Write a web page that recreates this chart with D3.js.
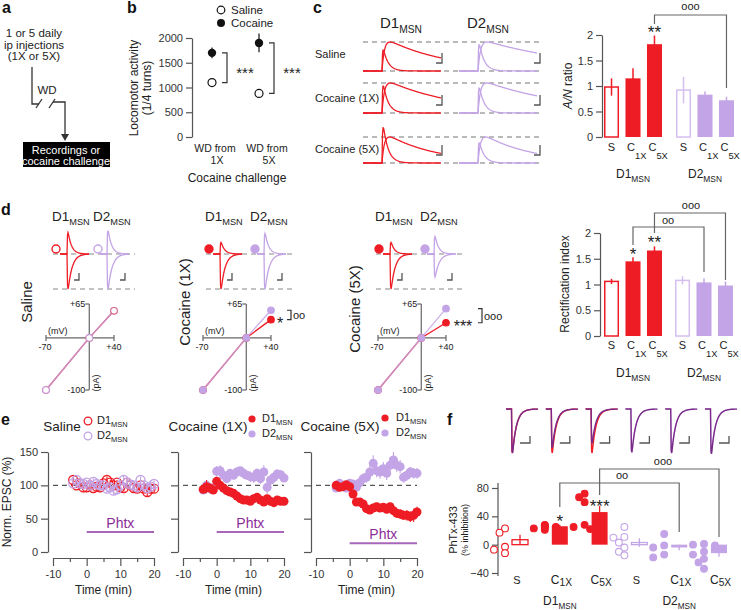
<!DOCTYPE html>
<html><head><meta charset="utf-8">
<script src="https://cdn.jsdelivr.net/npm/d3@7"></script>
<style>body{margin:0;background:#fff}svg{display:block;font-family:"Liberation Sans",Arial,Helvetica,sans-serif}</style>
</head><body><script>
// ================= DATA =================
// panel b
const bGroups=["1X","5X"];
const bSaline=[1100,880], bSalineErr=[60,50];
const bCocaine=[1700,1900], bCocaineErr=[110,190];
const bTicks=[0,500,1000,1500,2000];
// panel c traces (relative to NMDA peak = 1)
const cRows=["Saline","Cocaine (1X)","Cocaine (5X)"];
const cD1Ampa=[0.72,0.9,1.35], cD1NmdaEnd=[0.38,0.43,0.3];
const cD2Ampa=[0.9,0.83,0.77], cD2NmdaEnd=[0.55,0.5,0.3];
// bar categories
const barCats=["S","C1X","C5X"];
const cellTypes=["D1","D2"];
const barTicks=[0,0.5,1,1.5,2];
// panel c A/N ratio
const anD1=[0.98,1.15,1.82], anD1Err=[0.17,0.2,0.17];
const anD2=[0.92,0.83,0.72], anD2Err=[0.26,0.06,0.07];
// panel d I-V
const ivConds=["Saline","Cocaine (1X)","Cocaine (5X)"];
const ivVolts=[-70,0,40];
const ivD1=[[-100,0,52],[-100,0,35],[-100,0,29]];
const ivD2=[[-100,0,52],[-100,0,53],[-100,0,56]];
const dD1Out=[0.61,0.33,0.33], dD2Out=[0.67,0.59,0.5];
const dD1In=[1,1,1], dD2In=[1,1,0.66];
// panel d rectification index
const riD1=[1.06,1.45,1.66], riD1Err=[0.05,0.08,0.08];
const riD2=[1.08,1.04,0.98], riD2Err=[0.08,0.08,0.08];
// panel e time courses
const eTime=[-4,-3,-2,-1,0,1,2,3,4,5,6,7,8,9,10,11,12,13,14,15,16,17,18,19,20];
const eSalD1=[108,100,103,97,97,100,96,98,97,103,108,104,100,104,97,96,104,100,96,95,100,95,90,95,95];
const eSalD1Err=[4,4,4,3,3,4,3,3,4,4,5,4,4,4,4,4,5,4,4,4,4,4,6,4,4];
const eSalD2=[103,108,103,102,104,100,105,102,100,100,95,97,92,94,100,108,104,101,100,97,108,100,96,98,102];
const eSalD2Err=[4,4,4,4,4,5,5,5,6,5,6,7,6,6,5,6,5,5,6,5,5,6,5,5,5];
const eC1D1=[94,98,96,93,106,100,96,92,90,88,84,80,78,78,76,80,82,78,75,80,76,74,78,76,76];
const eC1D1Err=[6,10,6,5,5,5,4,4,4,4,4,4,4,4,4,4,5,4,4,4,4,4,4,4,4];
const eC1D2=[93,100,95,96,121,122,115,110,118,115,120,122,118,115,113,112,118,110,120,97,108,112,117,116,111];
const eC1D2Err=[6,8,8,6,8,8,6,6,6,6,7,6,8,6,8,8,7,8,10,10,8,8,7,7,6];
const eC5D1=[100,97,98,101,98,87,75,75,72,65,63,66,68,66,67,64,68,62,58,57,55,55,53,55,60];
const eC5D1Err=[5,5,5,5,5,6,6,6,6,6,6,6,6,6,6,6,6,6,7,7,7,8,8,10,8];
const eC5D2=[96,103,100,96,103,102,97,104,110,112,120,133,122,120,125,118,130,138,130,128,112,115,120,118,118];
const eC5D2Err=[5,5,5,5,6,6,6,7,8,8,10,12,10,10,10,10,12,12,10,10,8,8,8,8,8];
const ePhtxLevel=[30,30,13];
const eYTicks=[0,50,100,150];
const eXTicks=[-10,-5,0,5,10,15,20];
// panel f
const fGroups=["D1 S","D1 C1X","D1 C5X","D2 S","D2 C1X","D2 C5X"];
const fDots=[[23,17,-3,-7,-12],[21,23,25,26,28,27,24],[72,67,60,28,25,22],[25,11,10,3,-4,-10,-15],[15,-1,-4,-14,-18],[1,0,-1,-10,-14,-20,-25,-34]];
const fMean=[7,26,46,3,-4,-12], fErr=[7,2,9,6,4,5];
const fPreAmp=[1,1,1,1,1,1], fPostAmp=[1.0,0.88,0.78,0.98,1.0,1.02];
const fTicks=[-40,0,40,80];

// ================= STYLE =================
const RED="#ee1c25", LAV="#c3a4e6", LAVL="#d4bff0", AX="#555", PH="#8b2d99", PHL="#a866ba", TR="#7a2a88", INK="#222";
const svg=d3.select("body").append("svg").attr("width",741).attr("height",610);

function txt(x,y,s,o={}){const t=svg.append("text").attr("x",x).attr("y",y).attr("font-size",o.size||11).attr("fill",o.fill||INK).attr("text-anchor",o.anchor||"start").text(s);
  if(o.weight)t.attr("font-weight",o.weight); if(o.rot)t.attr("transform",`rotate(${o.rot},${x},${y})`); return t;}
function subTxt(x,y,main,sub,o={}){const size=o.size||11;const t=svg.append("text").attr("x",x).attr("y",y).attr("font-size",size).attr("fill",o.fill||INK).attr("text-anchor",o.anchor||"start");
  t.append("tspan").text(main); t.append("tspan").attr("font-size",size*(o.ss||0.68)).attr("dy",o.dy!=null?o.dy:size*0.3).text(sub);
  if(o.rot)t.attr("transform",`rotate(${o.rot},${x},${y})`); return t;}
function ln(x1,y1,x2,y2,o={}){const l=svg.append("line").attr("x1",x1).attr("y1",y1).attr("x2",x2).attr("y2",y2).attr("stroke",o.stroke||AX).attr("stroke-width",o.w||1.2);
  if(o.dash)l.attr("stroke-dasharray",o.dash); return l;}
function poly(pts,o={}){return svg.append("path").attr("d",d3.line()(pts)).attr("fill","none").attr("stroke",o.stroke||AX).attr("stroke-width",o.w||1.2);}
function styleAxis(g,size){g.selectAll("path,line").attr("stroke",AX).attr("stroke-width",1.2);g.selectAll("text").attr("font-size",size||11).attr("fill","#333").attr("font-family",null);}
function scaleBar(x,y,w,h){poly([[x,y],[x+w,y],[x+w,y-h]],{w:1.3});}
function stars(x,y,s,size){txt(x,y,s,{size:size||17,anchor:"middle"});}
function psc(x0,x1,onset,amp,tauR,tauD){const raw=[];let pk=0;
  for(let x=x0;x<=x1;x+=0.5){const t=x-onset;const v=t>0?(1-Math.exp(-t/tauR))*Math.exp(-t/tauD):0;raw.push([x,v]);if(v>pk)pk=v;}
  return raw.map(([x,v])=>[x,pk?v/pk*amp:0]);}

// ================= PANEL LABELS =================
[["a",2,13],["b",127,13],["c",313,13],["d",1,215],["e",1,425],["f",447,425]].forEach(([s,x,y])=>txt(x,y,s,{size:16,weight:"bold",fill:"#111"}));

// ================= PANEL A =================
["1 or 5 daily","ip injections","(1X or 5X)"].forEach((s,i)=>txt(34,37+i*11.5,s,{size:11.5,anchor:"middle"}));
poly([[32,67],[32,104],[39,104]],{stroke:"#333",w:1.3});
poly([[36,108],[42,99]],{stroke:"#333",w:1.3});poly([[49,108],[55,99]],{stroke:"#333",w:1.3});
poly([[53,102],[65,102],[65,136]],{stroke:"#333",w:1.3});
svg.append("path").attr("d","M61,134 L69,134 L65,141 Z").attr("fill","#333");
txt(47,94,"WD",{size:11.5,anchor:"middle"});
svg.append("rect").attr("x",23).attr("y",142).attr("width",87).attr("height",25).attr("fill","#000");
txt(66,154,"Recordings or",{size:11,anchor:"middle",fill:"#fff"});
txt(66,165,"cocaine challenge",{size:11,anchor:"middle",fill:"#fff"});

// ================= PANEL B =================
{
 const y=d3.scaleLinear([0,2000],[137,38]);
 const x=d3.scalePoint(bGroups,[212,259]);
 const g=svg.append("g").attr("transform","translate(192,0)").call(d3.axisLeft(y).tickValues(bTicks).tickSize(6).tickSizeOuter(0).tickPadding(3).tickFormat(d3.format("d")));
 styleAxis(g,11);
 txt(138,88,"Locomotor activity",{size:12,anchor:"middle",rot:-90});
 txt(151,88,"(1/4 turns)",{size:12,anchor:"middle",rot:-90});
 bGroups.forEach((gname,i)=>{
   const cx=x(gname);
   ln(cx,y(bCocaine[i]-bCocaineErr[i]),cx,y(bCocaine[i]+bCocaineErr[i]),{stroke:"#111"});
   ln(cx,y(bSaline[i]-bSalineErr[i]),cx,y(bSaline[i]+bSalineErr[i]),{stroke:"#111"});
   svg.append("circle").attr("cx",cx).attr("cy",y(bCocaine[i])).attr("r",4.2).attr("fill","#111");
   svg.append("circle").attr("cx",cx).attr("cy",y(bSaline[i])).attr("r",4).attr("fill","#fff").attr("stroke","#111").attr("stroke-width",1.2);
   const bx=cx+10;
   poly([[bx,y(bCocaine[i])],[bx+5,y(bCocaine[i])],[bx+5,y(bSaline[i])],[bx,y(bSaline[i])]],{stroke:"#333"});
   stars(bx+23,(y(bCocaine[i])+y(bSaline[i]))/2+10,"***",15);
   const lx=cx+[3,8][i];
   txt(lx,152,"WD from",{size:10.5,anchor:"middle"});
   txt(lx+2,164,gname,{size:10.5,anchor:"middle"});
 });
 txt(237,182,"Cocaine challenge",{size:12,anchor:"middle"});
 svg.append("circle").attr("cx",221).attr("cy",10).attr("r",3.8).attr("fill","#fff").attr("stroke","#111").attr("stroke-width",1.2);
 svg.append("circle").attr("cx",221).attr("cy",23).attr("r",4).attr("fill","#111");
 txt(231,14,"Saline",{size:11.5});txt(231,27,"Cocaine",{size:11.5});
}

// ================= PANEL C TRACES =================
{
 subTxt(380,28,"D1","MSN",{size:15});
 subTxt(467,28,"D2","MSN",{size:15});
 const rowGeom=[[42,71],[83,113],[137,163]];
 cRows.forEach((r,i)=>{
   const [top,base]=rowGeom[i];
   txt(315,[58,102,153][i],r,{size:11});
   ln(363,top,541,top,{stroke:"#777",w:1.1,dash:"5,4"});
   ln(363,base,541,base,{stroke:"#777",w:1.1,dash:"5,4"});
   const yv=d3.scaleLinear([0,1],[base,top]);
   const draw=(x0,onset,ampa,nEnd,col)=>{
     const x1=x0+78;
     const nm=psc(x0,x1,onset,1,2.5,(x1-onset)/Math.log(1/nEnd));
     const am=psc(x0,x1,onset,ampa,0.5,5);
     [nm,am].forEach(p=>svg.append("path").attr("d",d3.line().x(d=>d[0]).y(d=>yv(d[1]))(p)).attr("fill","none").attr("stroke",col).attr("stroke-width",1.3));
   };
   draw(363,382,cD1Ampa[i],cD1NmdaEnd[i],RED);
   draw(459,478,cD2Ampa[i],cD2NmdaEnd[i],LAV);
   scaleBar(436,base-8,6,10);
   scaleBar(534,base-8,6,10);
 });
}

// ================= BAR CHART HELPER =================
function barChart(opt){
 const y=d3.scaleLinear([0,2],[opt.y0,opt.y2]);
 const gx=d3.scalePoint(cellTypes,opt.groups);
 const ix=d3.scaleBand(barCats,[-29,29]).paddingInner(0.3);
 const g=svg.append("g").attr("transform",`translate(${opt.ax},0)`).call(d3.axisLeft(y).tickValues(barTicks).tickSize(6).tickSizeOuter(0).tickPadding(3).tickFormat(d3.format("~g")));
 styleAxis(g,11);
 const data=[[opt.d1,opt.d1e,RED,RED],[opt.d2,opt.d2e,LAV,LAVL]];
 const pos={};
 cellTypes.forEach((ct,gi)=>{
   const [vals,errs,col,openCol]=data[gi];
   barCats.forEach((c,i)=>{
     const cx=gx(ct)+ix(c)+ix.bandwidth()/2; pos[ct+c]=cx;
     const open=i===0;
     svg.append("rect").attr("x",cx-ix.bandwidth()/2+(open?0.75:0)).attr("y",y(vals[i])).attr("width",ix.bandwidth()-(open?1.5:0)).attr("height",y(0)-y(vals[i]))
       .attr("fill",open?"#fff":col).attr("stroke",open?openCol:"none").attr("stroke-width",1.5);
     ln(cx,y(vals[i]-errs[i]),cx,y(vals[i]+errs[i]),{stroke:open?openCol:col,w:1.5});
     if(c==="S") txt(cx,opt.labY,"S",{size:11,anchor:"middle"});
     else subTxt(cx-6,opt.labY,c[0],c.slice(1),{size:11,ss:0.85,dy:8});
   });
   subTxt(gx(ct),opt.grpY,ct,"MSN",{size:12,anchor:"middle",ss:0.7});
 });
 return {y,pos};
}

// ================= PANEL C BARS =================
{
 const {y,pos}=barChart({ax:602,y0:137,y2:35,groups:[633,705],d1:anD1,d1e:anD1Err,d2:anD2,d2e:anD2Err,labY:151,grpY:178});
 const t=svg.append("text").attr("transform","translate(572,86) rotate(-90)").attr("text-anchor","middle").attr("font-size",12).attr("fill",INK);
 t.append("tspan").attr("font-style","italic").text("A/N");t.append("tspan").text(" ratio");
 stars(pos.D1C5X,38,"**",17);
 poly([[pos.D1C5X,24],[pos.D1C5X,15],[pos.D2C5X,15],[pos.D2C5X,88]],{stroke:"#666"});
 txt((pos.D1C5X+pos.D2C5X)/2,10,"ooo",{size:11,anchor:"middle"});
}

// ================= PANEL D I-V + TRACES =================
{
 const cols=[{ax:89,t1:67,t2:107,lx:32,ly:302},{ax:246,t1:220,t2:264,lx:190,ly:302},{ax:421,t1:390,t2:434,lx:360,ly:309}];
 ivConds.forEach((cond,i)=>{
   const c=cols[i];
   subTxt(c.t1-15,221,"D1","MSN",{size:13.5});
   subTxt(c.t2-14,221,"D2","MSN",{size:13.5});
   txt(c.lx,c.ly,cond,{size:15,anchor:"middle",rot:-90});
   const xL=c.t1-14,xR=c.t2+28;
   ln(xL,254,xR,254,{stroke:"#888",w:1.1,dash:"5,4"});
   ln(xL,289,xR,289,{stroke:"#888",w:1.1,dash:"5,4"});
   const yv=d3.scaleLinear([0,1],[254,289]);
   const tr=(on,out,inn,col)=>{
     [psc(on-7,on+22,on,-out,0.4,3.5),psc(on-7,on+22,on,inn,0.4,4)].forEach(p=>svg.append("path").attr("d",d3.line().x(d=>d[0]).y(d=>yv(d[1]))(p)).attr("fill","none").attr("stroke",col).attr("stroke-width",1.3));
   };
   tr(c.t1,dD1Out[i],dD1In[i],RED);
   tr(c.t2,dD2Out[i],dD2In[i],LAV);
   const filled=i>0;
   svg.append("circle").attr("cx",c.t1-11).attr("cy",249).attr("r",4).attr("fill",filled?RED:"#fff").attr("stroke",RED).attr("stroke-width",1.4);
   svg.append("circle").attr("cx",c.t2-9).attr("cy",249).attr("r",4).attr("fill",filled?LAV:"#fff").attr("stroke",LAV).attr("stroke-width",1.4);
   scaleBar(c.t1+7,280,5,7);scaleBar(c.t2+13,280,5,7);
   // IV axes
   const x=d3.scaleLinear([-70,40],[c.ax-43,c.ax+25]);
   const y=d3.scaleLinear([-100,65],[390,304]);
   ln(x(0),y(65),x(0),y(-100),{stroke:"#666"});
   ln(x(0)-4,y(65),x(0),y(65),{stroke:"#666"});ln(x(0)-4,y(-100),x(0),y(-100),{stroke:"#666"});
   ln(x(-70),y(0),x(40),y(0),{stroke:"#666"});
   ln(x(-70),y(0)-3,x(-70),y(0)+3,{stroke:"#666"});ln(x(40),y(0)-3,x(40),y(0)+3,{stroke:"#666"});
   txt(x(0)-4,y(65)+3,"+65",{size:9,anchor:"end"});
   txt(x(0)-4,y(-100)+3,"-100",{size:9,anchor:"end"});
   txt(x(-70)-1,y(0)+12,"-70",{size:9,anchor:"middle"});
   txt(x(40),y(0)+12,"+40",{size:9,anchor:"middle"});
   txt(x(-70)+2,y(0)-4,"(mV)",{size:9});
   txt(x(0)+10,383,"(pA)",{size:9,anchor:"middle",rot:-90});
   const l=d3.line().x((d,k)=>x(ivVolts[k])).y(d=>y(d));
   svg.append("path").attr("d",l(ivD1[i])).attr("fill","none").attr("stroke",RED).attr("stroke-width",1.3);
   svg.append("path").attr("d",l(ivD2[i])).attr("fill","none").attr("stroke",LAV).attr("stroke-width",1.3).attr("opacity",0.85);
   ivVolts.forEach((v,k)=>{
     svg.append("circle").attr("cx",x(v)).attr("cy",y(ivD1[i][k])).attr("r",3.3).attr("fill",filled?RED:"#fff").attr("stroke",RED).attr("stroke-width",1.1);
     svg.append("circle").attr("cx",x(v)).attr("cy",y(ivD2[i][k])).attr("r",3.3).attr("fill",filled?LAV:"#fff").attr("stroke",LAV).attr("stroke-width",1.1).attr("opacity",k===2&&i===0?0.6:1);
   });
   if(i>0){
     const x40=x(40), yd1=y(ivD1[i][2]), yd2=y(ivD2[i][2]);
     const s=i===1?"*":"***"; const sw=i===1?8:24;
     stars(x40+5+sw/2,yd1+9,s,16);
     const bx=x40+sw+8;
     poly([[bx,yd2],[bx+4,yd2],[bx+4,yd1],[bx,yd1]],{stroke:"#333"});
     txt(bx+6,(yd1+yd2)/2+4,i===1?"oo":"ooo",{size:11});
   }
 });
}

// ================= PANEL D BARS =================
{
 const {y,pos}=barChart({ax:600,y0:336,y2:233,groups:[633,704],d1:riD1,d1e:riD1Err,d2:riD2,d2e:riD2Err,labY:349,grpY:377});
 txt(569,284,"Rectification index",{size:12,anchor:"middle",rot:-90});
 stars(pos.D1C1X,260,"*",17);
 stars(pos.D1C5X,248,"**",17);
 poly([[pos.D1C1X,245],[pos.D1C1X,227],[pos.D2C1X,227],[pos.D2C1X,272]],{stroke:"#666"});
 poly([[pos.D1C5X,233],[pos.D1C5X,213],[pos.D2C5X,213],[pos.D2C5X,280]],{stroke:"#666"});
 txt(668,224,"oo",{size:11,anchor:"middle"});
 txt(691,209,"ooo",{size:11,anchor:"middle"});
}

// ================= PANEL E =================
{
 const plots=[
  {title:"Saline",tx:62,d1:eSalD1,d1e:eSalD1Err,d2:eSalD2,d2e:eSalD2Err,open:true,off:0,leg:[88,97]},
  {title:"Cocaine (1X)",tx:208,d1:eC1D1,d1e:eC1D1Err,d2:eC1D2,d2e:eC1D2Err,open:false,off:130,leg:[252,262]},
  {title:"Cocaine (5X)",tx:340,d1:eC5D1,d1e:eC5D1Err,d2:eC5D2,d2e:eC5D2Err,open:false,off:263,leg:[385,396]}];
 const y=d3.scaleLinear([0,150],[552,452]);
 plots.forEach((p,pi)=>{
   const x=d3.scaleLinear([-10,20],[53+p.off,154+p.off]);
   const ga=svg.append("g").attr("transform",`translate(${48+p.off},0)`).call(d3.axisLeft(y).tickValues(eYTicks).tickSize(7).tickSizeOuter(0).tickPadding(3).tickFormat(pi===0?d3.format("d"):""));
   styleAxis(ga,11);
   const gb=svg.append("g").attr("transform",`translate(0,558)`).call(d3.axisBottom(x).tickValues(eXTicks).tickSize(8).tickSizeOuter(0).tickPadding(4).tickFormat(d=>d%10===0?d:""));
   styleAxis(gb,11);
   gb.selectAll(".tick line").attr("y2",d=>d%10===0?8:4);
   txt(x(5),594,"Time (min)",{size:12,anchor:"middle"});
   ln(x(-10),y(100),x(20),y(100),{stroke:"#555",w:1.2,dash:"5,4"});
   ln(x(0),y(ePhtxLevel[pi]),x(20),y(ePhtxLevel[pi]),{stroke:PHL,w:2});
   txt(x(10),y(ePhtxLevel[pi])-4,"Phtx",{size:14,anchor:"middle",fill:PH});
   txt(p.tx,431,p.title,{size:13.5,anchor:"middle"});
   const series=[[p.d2,p.d2e,LAV],[p.d1,p.d1e,RED]];
   if(p.open) series.reverse();
   series.forEach(([vals,errs,col])=>{
     vals.forEach((v,k)=>ln(x(eTime[k]),y(v-errs[k]),x(eTime[k]),y(v+errs[k]),{stroke:col,w:1.1}));
     vals.forEach((v,k)=>svg.append("circle").attr("cx",x(eTime[k])).attr("cy",y(v)).attr("r",4.5)
       .attr("fill",p.open?"none":col).attr("stroke",col).attr("stroke-width",p.open?1.3:0));
   });
   const [lcx,ltx]=p.leg, ly0=[421,419,418][pi];
   svg.append("circle").attr("cx",lcx).attr("cy",ly0).attr("r",p.open?3.8:3.6).attr("fill",p.open?"none":RED).attr("stroke",RED).attr("stroke-width",p.open?1.3:0);
   svg.append("circle").attr("cx",lcx).attr("cy",ly0+15).attr("r",p.open?3.8:3.6).attr("fill",p.open?"none":LAV).attr("stroke",LAV).attr("stroke-width",p.open?1.3:0);
   subTxt(ltx,ly0+3,"D1","MSN",{size:11});
   subTxt(ltx,ly0+18,"D2","MSN",{size:11});
 });
 txt(11,502,"Norm. EPSC (%)",{size:12,anchor:"middle",rot:-90});
}

// ================= PANEL F =================
{
 const y=d3.scaleLinear([-40,80],[573,488]);
 const x=d3.scalePoint(fGroups,[520,719]);
 const ga=svg.append("g").attr("transform","translate(498,0)").call(d3.axisLeft(y).tickValues(fTicks).tickSize(6).tickSizeOuter(0).tickPadding(3));
 styleAxis(ga,11);
 ga.select(".domain").attr("d","M0,483V576");
 txt(457,530,"PhTx-433",{size:11,anchor:"middle",rot:-90});
 txt(468,530,"(% inhibition)",{size:9,anchor:"middle",rot:-90});
 const r=3.4;
 fGroups.forEach((gname,i)=>{
   const [ct,cat]=gname.split(" ");
   const col=ct==="D1"?RED:LAV, open=cat==="S";
   const cx=x(gname);
   // traces
   const tx=cx-8, base=409, yv=d3.scaleLinear([0,1],[base,base+44]);
   const preCol=ct==="D1"?RED:LAVL;
   [[fPreAmp[i],preCol],[fPostAmp[i],TR]].forEach(([a,c])=>{
     const p=psc(tx-6,tx+26,tx-0.5,a,0.3,4);
     svg.append("path").attr("d",d3.line().x(d=>d[0]).y(d=>yv(d[1]))(p)).attr("fill","none").attr("stroke",c).attr("stroke-width",1.4);
   });
   scaleBar(tx+8,443,10,7);
   // bar
   const bw=16;
   const y0=y(0), ym=y(fMean[i]);
   svg.append("rect").attr("x",cx-bw/2).attr("y",Math.min(y0,ym)).attr("width",bw).attr("height",Math.max(1,Math.abs(ym-y0)))
     .attr("fill",open?"none":col).attr("stroke",open?col:"none").attr("stroke-width",1.3);
   ln(cx,y(fMean[i]-fErr[i]),cx,y(fMean[i]+fErr[i]),{stroke:col,w:1.3});
   // dots (simple beeswarm around group - 15)
   const placed=[];
   fDots[i].forEach(v=>{
     const cy=y(v); const offs=[0,-5.5,5.5,-11,11];
     let px=cx-15;
     for(const o of offs){const t=cx-15+o; if(placed.every(q=>Math.hypot(q[0]-t,q[1]-cy)>=2*r-0.5)){px=t;break;}}
     placed.push([px,cy]);
     svg.append("circle").attr("cx",px).attr("cy",cy).attr("r",r).attr("fill",open?"#fff":col).attr("stroke",col).attr("stroke-width",1.1);
   });
   if(cat==="S") txt(cx-3,584,"S",{size:11,anchor:"middle"});
   else subTxt(cx-9,584,cat[0],cat.slice(1),{size:12,ss:0.85,dy:2});
 });
 subTxt(x("D1 C1X"),605,"D1","MSN",{size:12,anchor:"middle"});
 subTxt(x("D2 C1X"),605,"D2","MSN",{size:12,anchor:"middle"});
 const p=k=>x(fGroups[k]);
 stars(p(1),527,"*",17);
 stars(p(2),512,"***",17);
 poly([[p(1),507],[p(1),483],[p(4),483],[p(4),532]],{stroke:"#666"});
 poly([[p(2),495],[p(2),469],[p(5),469],[p(5),537]],{stroke:"#666"});
 txt(622,479,"oo",{size:11,anchor:"middle"});
 txt(663,465,"ooo",{size:11,anchor:"middle"});
}
</script></body></html>
